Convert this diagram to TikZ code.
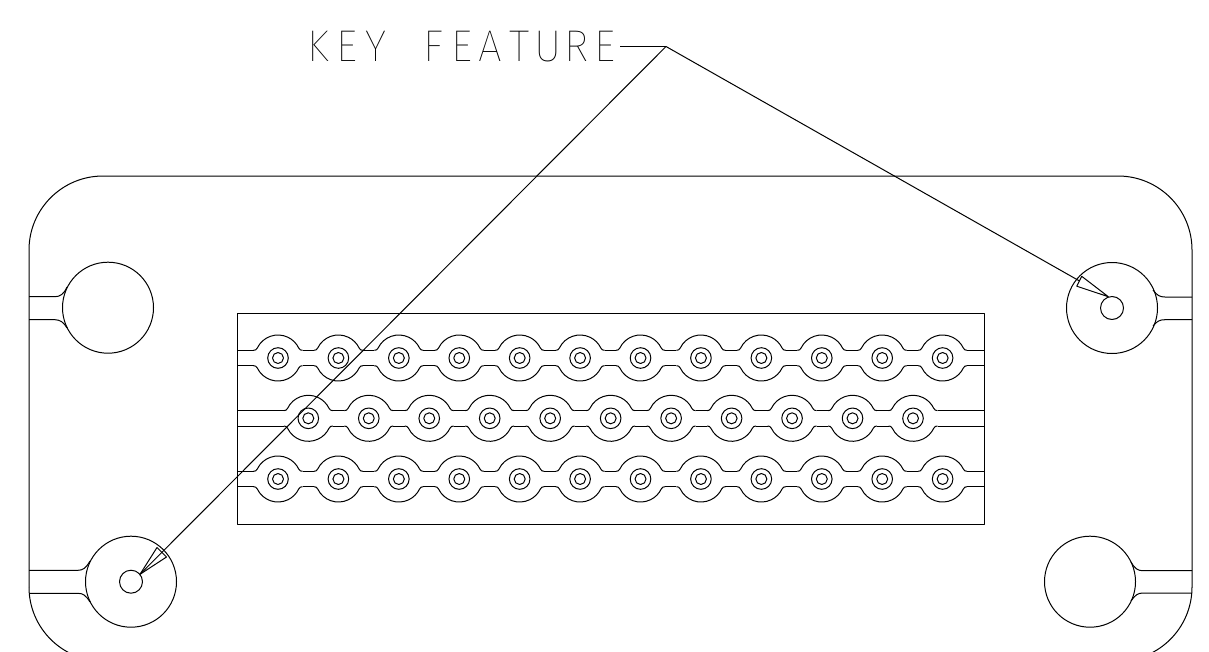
\documentclass[tikz,border=0pt]{standalone}
\usepackage{fontspec}
\newfontfamily\cadfont[FakeStretch=0.95]{Fira Sans Thin}
\newcommand{\cc}[1]{\makebox[28.7pt][c]{#1}}
\tikzset{
  part/.style={draw=black,line width=1pt,line join=round},
  leader/.style={draw=black,line width=1pt},
  cadlabel/.style={inner sep=0pt,outer sep=0pt,anchor=base west,font=\cadfont\fontsize{44.5}{44.5}\selectfont},
}
% one pin: x, y
\newcommand{\pinring}[2]{%
  \draw[part] (#1,#2) circle[radius=10.3pt];
  \draw[part] (#1,#2) circle[radius=5.5pt];
  \draw[part] ({#1-24.5},{#2-7.7}) .. controls ({#1-22.5},{#2-7.7}) and ({#1-21.8},{#2-8.2}) .. ({#1-20.72},{#2-9.98})
     arc[start angle=154.3,end angle=25.7,radius=23pt]
     .. controls ({#1+21.8},{#2-8.2}) and ({#1+22.5},{#2-7.7}) .. ({#1+24.5},{#2-7.7});
  \draw[part] ({#1-24.5},{#2+7.7}) .. controls ({#1-22.5},{#2+7.7}) and ({#1-21.8},{#2+8.2}) .. ({#1-20.72},{#2+9.98})
     arc[start angle=205.7,end angle=334.3,radius=23pt]
     .. controls ({#1+21.8},{#2+8.2}) and ({#1+22.5},{#2+7.7}) .. ({#1+24.5},{#2+7.7});
}
\begin{document}
\begin{tikzpicture}[x=1pt,y=-1pt]
\useasboundingbox (0,0) rectangle (1209,651);
\begin{scope}
\clip (0,0) rectangle (1209,651);
% housing outline
\draw[part] (29,587) -- (29,250) arc[start angle=180,end angle=90,radius=74pt]
  -- (1118,176) arc[start angle=90,end angle=0,radius=74pt] -- (1192,587);
\draw[part] (29,587) arc[start angle=180,end angle=270,radius=74pt];
\draw[part] (1192,587) arc[start angle=0,end angle=-90,radius=74pt];
\end{scope}
% corner bosses
\draw[part] (108,307.7) circle[radius=45.5pt];
\draw[part] (1112,308) circle[radius=45.5pt];
\draw[part] (1112,308) circle[radius=11.5pt];
\draw[part] (131,581.7) circle[radius=45.5pt];
\draw[part] (131,581.7) circle[radius=11.5pt];
\draw[part] (1090,581.7) circle[radius=45.5pt];
% tabs
\draw[part] (29,296.7) -- (55,296.7) .. controls (60,296.7) and (64,294) .. (67,287);
\draw[part] (29,319.7) -- (55,319.7) .. controls (60,319.7) and (64,322.5) .. (67,328);
\draw[part] (1192,297) -- (1165,297) .. controls (1160,297) and (1157,295.5) .. (1153,290);
\draw[part] (1192,319.7) -- (1165,319.7) .. controls (1160,319.7) and (1157,321) .. (1153,326);
\draw[part] (29,570.3) -- (78,570.3) .. controls (83,570.3) and (86,568) .. (90,561);
\draw[part] (29,593.3) -- (78,593.3) .. controls (83,593.3) and (86,595.5) .. (90,602);
\draw[part] (1192,570.7) -- (1143,570.7) .. controls (1138,570.7) and (1135,569) .. (1131,562);
\draw[part] (1192,593) -- (1143,593) .. controls (1138,593) and (1135,595) .. (1131,601);
% connector block
\draw[part] (237,313) rectangle (984,524.3);
% row stubs
\foreach \y in {358,479}{
  \draw[part] (237,\y-7.7) -- (253.5,\y-7.7);
  \draw[part] (237,\y+7.7) -- (253.5,\y+7.7);
  \draw[part] (967.2,\y-7.7) -- (984,\y-7.7);
  \draw[part] (967.2,\y+7.7) -- (984,\y+7.7);
}
\draw[part] (237,410.6) -- (284,410.6);
\draw[part] (237,426) -- (284,426);
\draw[part] (937.5,410.6) -- (984,410.6);
\draw[part] (937.5,426) -- (984,426);
% pins
\foreach \i in {0,...,11}{
  \pgfmathsetmacro{\px}{278+60.42*\i}
  \pinring{\px}{358}
  \pinring{\px}{479}
  \ifnum\i>0\relax
    \pgfmathsetmacro{\qx}{\px-35.92}
    \pgfmathsetmacro{\rx}{\px-24.5}
    \draw[part] (\qx,350.3) -- (\rx,350.3);
    \draw[part] (\qx,365.7) -- (\rx,365.7);
    \draw[part] (\qx,471.3) -- (\rx,471.3);
    \draw[part] (\qx,486.7) -- (\rx,486.7);
  \fi
}
\foreach \i in {0,...,10}{
  \pgfmathsetmacro{\px}{308.3+60.47*\i}
  \pinring{\px}{418.3}
  \ifnum\i>0\relax
    \pgfmathsetmacro{\qx}{\px-35.97}
    \pgfmathsetmacro{\rx}{\px-24.5}
    \draw[part] (\qx,410.6) -- (\rx,410.6);
    \draw[part] (\qx,426) -- (\rx,426);
  \fi
}
% label and leaders
\node[cadlabel] (keylabel) at (304,61.7) {\cc{K}\cc{E}\cc{Y}\cc{ }\cc{F}\cc{E}\cc{A}\cc{T}\cc{U}\cc{R}\cc{E}};
\coordinate (elbow) at (666,46.5);
\coordinate (tipR) at (1108.3,296.7);
\coordinate (baseRa) at (1081.7,276.3);
\coordinate (baseRb) at (1076.7,286.2);
\coordinate (baseRm) at (1079,280.7);
\coordinate (tipL) at (140,574.3);
\coordinate (baseLa) at (157,547.5);
\coordinate (baseLb) at (166.5,557);
\draw[leader] (620,46.5) -- (elbow);
\draw[leader] (elbow) -- (baseRm);
\draw[leader] (elbow) -- (tipL);
\draw[leader,line join=round] (tipR) -- (baseRa) -- (baseRb) -- cycle;
\draw[leader,line join=round] (tipL) -- (baseLa) -- (baseLb) -- cycle;
\end{tikzpicture}
\end{document}
